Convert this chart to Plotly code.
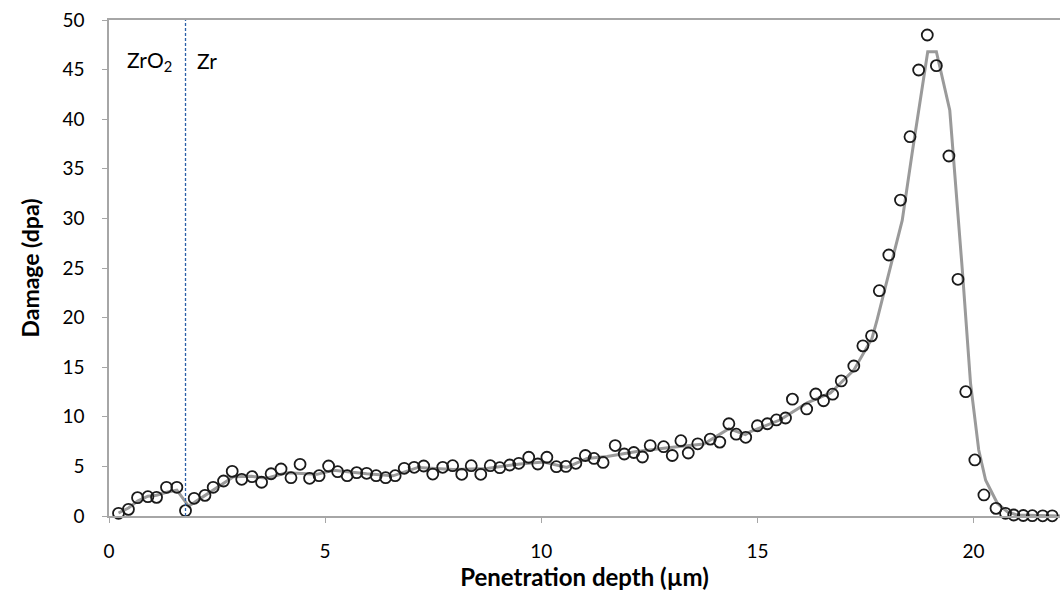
import plotly.graph_objects as go

# Measured damage points (open circles)
depth_pts = [0.22, 0.45, 0.66, 0.90, 1.10, 1.33, 1.57, 1.77, 1.97, 2.22, 2.41, 2.65, 2.85, 3.07,
             3.31, 3.53, 3.75, 3.98, 4.21, 4.42, 4.64, 4.86, 5.08, 5.29, 5.51, 5.73, 5.96, 6.18,
             6.40, 6.62, 6.83, 7.06, 7.28, 7.49, 7.72, 7.95, 8.16, 8.38, 8.60, 8.82, 9.04, 9.27,
             9.48, 9.71, 9.92, 10.13, 10.35, 10.57, 10.80, 11.02, 11.22, 11.43, 11.71, 11.92,
             12.14, 12.34, 12.52, 12.83, 13.03, 13.23, 13.40, 13.62, 13.91, 14.13, 14.34, 14.51,
             14.73, 15.00, 15.23, 15.44, 15.65, 15.81, 16.14, 16.35, 16.53, 16.74, 16.94, 17.23,
             17.44, 17.64, 17.82, 18.04, 18.31, 18.53, 18.73, 18.93, 19.14, 19.43, 19.64, 19.82,
             20.03, 20.24, 20.52, 20.74, 20.93, 21.15, 21.36, 21.60, 21.82, 22.03]
damage_pts = [0.27, 0.67, 1.85, 1.95, 1.88, 2.89, 2.89, 0.54, 1.78, 2.08, 2.89, 3.53, 4.50, 3.70,
              3.96, 3.40, 4.26, 4.74, 3.86, 5.21, 3.80, 4.06, 5.04, 4.47, 4.06, 4.37, 4.30, 4.06,
              3.86, 4.06, 4.81, 4.91, 5.04, 4.23, 4.91, 5.07, 4.20, 5.07, 4.20, 5.07, 4.87, 5.14,
              5.31, 5.92, 5.24, 5.92, 4.97, 5.00, 5.31, 6.10, 5.80, 5.40, 7.10, 6.25,
              6.40, 5.95, 7.10, 6.99, 6.10, 7.59, 6.35, 7.28, 7.75, 7.45, 9.30, 8.25,
              7.93, 9.10, 9.30, 9.68, 9.88, 11.78, 10.79, 12.30, 11.62, 12.28, 13.62, 15.12,
              17.15, 18.16, 22.71, 26.31, 31.85, 38.24, 44.96, 48.49, 45.40, 36.29, 23.86, 12.53,
              5.65, 2.12, 0.77, 0.27, 0.10, 0.05, 0.03, 0.02, 0.02, 0.02]

# Calculated damage profile (grey line)
depth_line = [0.22, 0.45, 0.66, 0.90, 1.10, 1.33, 1.57, 1.84, 1.97, 2.41, 2.88, 3.30, 3.65, 4.11,
              4.81, 5.19, 5.96, 6.57, 7.15, 7.97, 8.74, 9.51, 10.05, 10.59, 11.06, 11.52, 12.21,
              12.98, 13.76, 14.34, 14.72, 14.84, 15.53, 16.15, 16.69, 17.23, 17.65, 17.77, 18.08,
              18.35, 18.58, 18.81, 18.94, 19.14, 19.45, 19.74, 19.93, 20.12, 20.28, 20.55, 20.78,
              21.00, 22.00]
damage_line = [0.3, 0.8, 1.5, 2.0, 2.1, 2.4, 2.6, 1.0, 1.35, 2.6, 3.95, 4.0, 3.8, 4.35,
               4.2, 4.6, 4.25, 4.05, 4.9, 4.7, 4.8, 5.25, 5.45, 4.9, 5.8, 6.0, 6.5,
               6.9, 7.25, 8.8, 8.2, 8.5, 9.7, 11.4, 12.4, 14.7, 17.9, 19.8, 25.0,
               29.8, 36.6, 43.3, 46.8, 46.8, 40.9, 24.8, 13.4, 6.65, 3.6, 1.28, 0.43,
               0.1, 0.0]

interface_depth = 1.77
x_ticks = [0, 5, 10, 15, 20]
y_ticks = [0, 5, 10, 15, 20, 25, 30, 35, 40, 45, 50]

FONT = "Lato, 'Open Sans', sans-serif"

fig = go.Figure()
fig.add_trace(go.Scatter(x=depth_line, y=damage_line, mode="lines",
                         line=dict(color="#9a9a9a", width=3), showlegend=False,
                         cliponaxis=False))
fig.add_trace(go.Scatter(x=depth_pts, y=damage_pts, mode="markers",
                         marker=dict(symbol="circle-open", size=11,
                                     line=dict(color="#1a1a1a", width=1.8),
                                     color="#1a1a1a"),
                         showlegend=False, cliponaxis=False))

fig.add_shape(type="line", x0=interface_depth, x1=interface_depth, y0=0, y1=50,
              xref="x", yref="y", line=dict(color="#2a5fa8", width=1.3, dash="3px,2px"))

fig.add_annotation(x=interface_depth, y=45.9, xref="x", yref="y", text="ZrO<sub>2</sub>",
                   showarrow=False, xanchor="right", xshift=-12, yanchor="middle",
                   font=dict(family=FONT, size=21, color="#000"))
fig.add_annotation(x=interface_depth, y=45.9, xref="x", yref="y", text="Zr",
                   showarrow=False, xanchor="left", xshift=9, yanchor="middle",
                   font=dict(family=FONT, size=21, color="#000"))

fig.update_layout(
    width=1060, height=604,
    margin=dict(l=109, r=0, t=20, b=88),
    paper_bgcolor="white", plot_bgcolor="white",
    font=dict(family=FONT, size=19, color="#000"),
)
fig.update_xaxes(range=[0, 22], tickvals=x_ticks, showgrid=False, zeroline=False,
                 showline=True, linecolor="#a6a6a6", linewidth=1.5, mirror=True,
                 ticks="outside", ticklen=5, tickcolor="#a6a6a6", tickwidth=1,
                 ticklabelstandoff=12,
                 tickfont=dict(family=FONT, size=19, color="#000"),
                 title=dict(text="<b>Penetration depth (µm)</b>",
                            font=dict(family=FONT, size=24, color="#000"), standoff=9))
fig.update_yaxes(range=[0, 50], tickvals=y_ticks, showgrid=False, zeroline=False,
                 showline=True, linecolor="#a6a6a6", linewidth=1.5,
                 ticks="outside", ticklen=5, tickcolor="#a6a6a6", tickwidth=1,
                 ticklabelstandoff=14,
                 tickfont=dict(family=FONT, size=19, color="#000"),
                 title=dict(text="<b>Damage (dpa)</b>",
                            font=dict(family=FONT, size=23, color="#000"), standoff=16))

fig.write_html("out.html")
